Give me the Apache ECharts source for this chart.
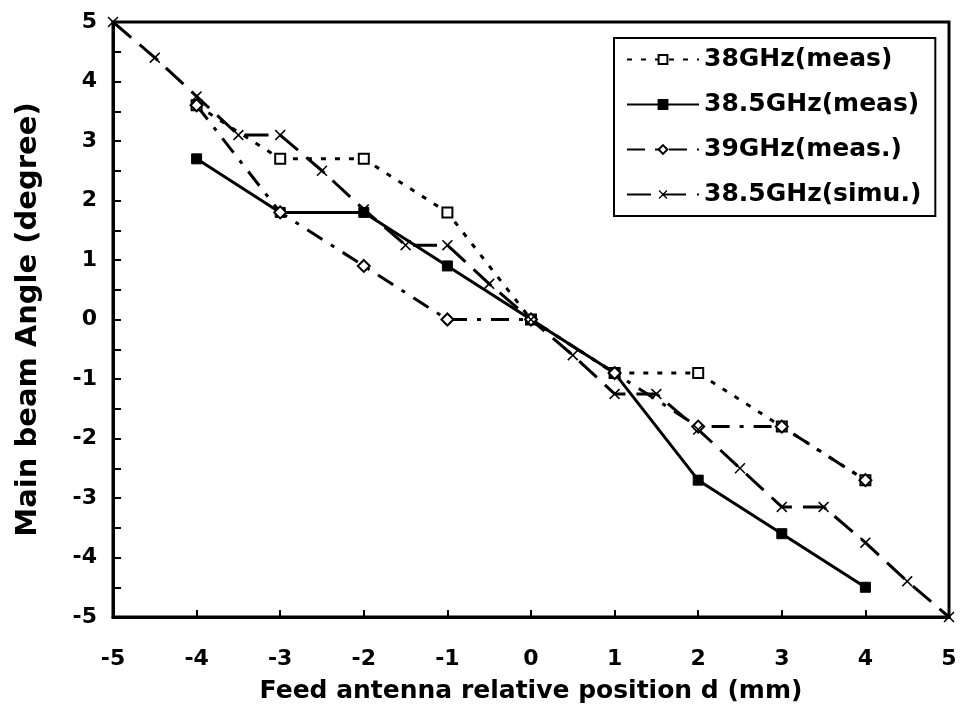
<!DOCTYPE html>
<html>
<head>
<meta charset="utf-8">
<script src="https://cdn.jsdelivr.net/npm/echarts@6/dist/echarts.min.js"></script>
<style>
html,body{margin:0;padding:0;background:#fff;}
#c{width:964px;height:723px;}
</style>
</head>
<body>
<div id="c"></div>
<script>
var xTicks = [-5,-4,-3,-2,-1,0,1,2,3,4,5];
var yTicks = [-5,-4,-3,-2,-1,0,1,2,3,4,5];
var measX = [-4,-3,-2,-1,0,1,2,3,4];
var f38 = [3.6,2.7,2.7,1.8,0,-0.9,-0.9,-1.8,-2.7];
var f385 = [2.7,1.8,1.8,0.9,0,-0.9,-2.7,-3.6,-4.5];
var f39 = [3.6,1.8,0.9,0,0,-0.9,-1.8,-1.8,-2.7];
var simX = [-5,-4.5,-4,-3.5,-3,-2.5,-2,-1.5,-1,-0.5,0,0.5,1,1.5,2,2.5,3,3.5,4,4.5,5];
var sim385 = [5,4.4,3.75,3.1,3.1,2.5,1.85,1.25,1.25,0.6,0,-0.6,-1.25,-1.25,-1.85,-2.5,-3.15,-3.15,-3.75,-4.4,-5];
var names = ['38GHz(meas)','38.5GHz(meas)','39GHz(meas.)','38.5GHz(simu.)'];

function pairs(xs, ys){ return xs.map(function(x,i){ return [x, ys[i]]; }); }
var FONT = 'DejaVu Sans';
var crossPath = 'path://M0,1 L1,0 L5,4 L9,0 L10,1 L6,5 L10,9 L9,10 L5,6 L1,10 L0,9 L4,5 Z';

var chart = echarts.init(document.getElementById('c'), null, {renderer:'canvas'});
chart.setOption({
  animation:false,
  backgroundColor:'#fff',
  grid:{left:113,right:15,top:22,bottom:106,show:true,borderColor:'#000',borderWidth:3,backgroundColor:'transparent'},
  legend:{
    orient:'vertical', left:614, top:38,
    backgroundColor:'#fff', borderColor:'#000', borderWidth:2,
    padding:[9,14,9,12], itemGap:20, itemWidth:72, itemHeight:11,
    textStyle:{fontFamily:FONT,fontWeight:'bold',fontSize:25,color:'#000'},
    data:names
  },
  xAxis:{
    type:'value', min:xTicks[0], max:xTicks[xTicks.length-1], interval:1,
    axisLine:{onZero:false,lineStyle:{color:'#000',width:3}},
    axisTick:{inside:true,length:7,lineStyle:{color:'#000',width:2}},
    splitLine:{show:false},
    axisLabel:{margin:31,fontFamily:FONT,fontWeight:'bold',fontSize:22,color:'#000'},
    name:'Feed antenna relative position d (mm)', nameLocation:'middle', nameGap:62,
    nameTextStyle:{fontFamily:FONT,fontWeight:'bold',fontSize:25,color:'#000'}
  },
  yAxis:{
    type:'value', min:yTicks[0], max:yTicks[yTicks.length-1], interval:1,
    axisLine:{onZero:false,lineStyle:{color:'#000',width:3}},
    axisTick:{inside:true,length:8,lineStyle:{color:'#000',width:2}},
    minorTick:{show:true,splitNumber:2,length:8,lineStyle:{color:'#000',width:2}},
    splitLine:{show:false},
    axisLabel:{margin:16,fontFamily:FONT,fontWeight:'bold',fontSize:22,color:'#000'},
    name:'Main beam Angle (degree)', nameLocation:'middle', nameGap:70,
    nameTextStyle:{fontFamily:FONT,fontWeight:'bold',fontSize:29,color:'#000'}
  },
  series:[
    {name:names[0], type:'line', data:pairs(measX,f38), symbol:'rect', symbolSize:10,
     lineStyle:{color:'#000',width:3,type:[5,9]},
     itemStyle:{color:'#fff',borderColor:'#000',borderWidth:2}},
    {name:names[1], type:'line', data:pairs(measX,f385), symbol:'rect', symbolSize:10,
     lineStyle:{color:'#000',width:3,type:'solid'},
     itemStyle:{color:'#000',borderColor:'#000',borderWidth:1}},
    {name:names[2], type:'line', data:pairs(measX,f39), symbol:'diamond', symbolSize:12,
     lineStyle:{color:'#000',width:3,type:[18,10,4,10]},
     itemStyle:{color:'#fff',borderColor:'#000',borderWidth:2}},
    {name:names[3], type:'line', data:pairs(simX,sim385), symbol:crossPath, symbolSize:11,
     lineStyle:{color:'#000',width:3,type:[24,11]},
     itemStyle:{color:'#000',borderColor:'#000',borderWidth:0}}
  ]
});
</script>
</body>
</html>
